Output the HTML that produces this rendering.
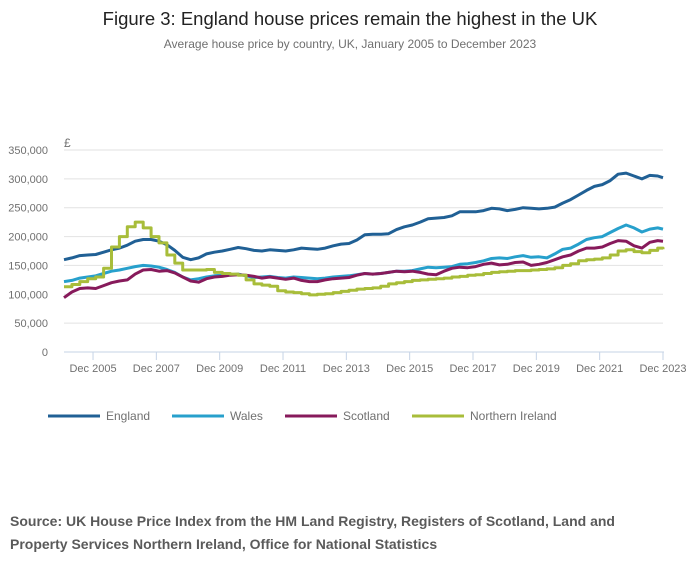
<!DOCTYPE html>
<html><head><meta charset="utf-8"><style>
body{margin:0;background:#fff;width:700px;height:574px;overflow:hidden;font-family:"Liberation Sans",sans-serif}
svg text{font-family:"Liberation Sans",sans-serif}
</style></head><body>
<svg id="c" width="700" height="574">
<text x="350" y="25" text-anchor="middle" font-size="18.5" fill="#222">Figure 3: England house prices remain the highest in the UK</text>
<text x="350" y="48" text-anchor="middle" font-size="12" fill="#707070">Average house price by country, UK, January 2005 to December 2023</text>
<text x="64" y="147" font-size="12" fill="#707070">£</text>
<g id="grid"></g><g id="series"></g><g id="legend"></g>
<text x="10" y="526" font-size="14" font-weight="bold" fill="#5a5a5a">Source: UK House Price Index from the HM Land Registry, Registers of Scotland, Land and</text>
<text x="10" y="549" font-size="14" font-weight="bold" fill="#5a5a5a">Property Services Northern Ireland, Office for National Statistics</text>
</svg>
<script>
const yTicks=[0,50000,100000,150000,200000,250000,300000,350000];
const xTickLabels=["Dec 2005","Dec 2007","Dec 2009","Dec 2011","Dec 2013","Dec 2015","Dec 2017","Dec 2019","Dec 2021","Dec 2023"];
const xTickMonths=[11,35,59,83,107,131,155,179,203,227];
const seriesNames=["England","Wales","Scotland","Northern Ireland"];
const england=[160,163,167,168,169,173,177,180,185,192,195,195,192,186,176,164,160,163,170,173,175,178,181,179,176,175,177,176,175,177,180,179,178,180,184,187,188,194,203,204,204,205,212,217,220,225,231,232,233,236,243,243,243,245,249,248,245,247,250,249,248,249,251,258,264,272,280,287,290,297,308,310,305,300,306,305,302];
const wales=[122,124,128,130,132,136,140,142,145,148,150,149,147,143,138,130,125,127,130,132,133,134,135,132,129,130,131,129,128,130,129,128,127,128,130,131,132,134,136,135,136,138,140,140,141,144,147,146,147,148,152,153,155,158,162,163,162,165,167,164,165,163,170,178,180,187,195,198,200,207,214,220,215,208,213,215,213];
const scotland=[94,104,110,111,110,115,120,123,125,135,142,143,140,141,137,130,123,121,127,130,131,133,134,133,131,128,130,128,126,128,124,122,122,125,127,128,129,133,136,135,136,138,140,139,140,138,135,134,140,145,147,146,148,152,154,151,152,155,156,150,152,155,160,165,168,175,180,180,182,188,193,192,184,180,190,193,192];
const nireland=[113,117,122,127,130,145,182,200,217,225,215,200,189,168,154,142,142,142,143,138,136,135,133,125,118,116,114,106,104,103,101,99,100,101,103,105,107,109,110,111,114,118,120,122,124,125,126,127,128,130,131,133,134,136,138,139,140,141,141,142,143,144,146,150,153,158,160,161,163,168,175,177,174,172,176,180,178];
const months=[];for(let i=0;i<76;i++)months.push(i*3);months.push(227);
const colors=["#206095","#27a0cc","#871a5b","#a8bd3a"];
const stepped=[false,false,false,true];
const X0=64,X1=663,Y0=352,Y1=150;
const xs=m=>X0+(X1-X0)*m/227;
const ys=v=>Y0-(Y0-Y1)*v/350000;
const NS="http://www.w3.org/2000/svg";
function mk(t,p,a){const e=document.createElementNS(NS,t);for(const k in a)e.setAttribute(k,a[k]);p.appendChild(e);return e;}
const grid=document.getElementById('grid');
yTicks.forEach(v=>{
 if(v>0){const l=mk('line',grid,{x1:X0,x2:X1,y1:ys(v),y2:ys(v),stroke:'#e2e2e2','stroke-width':1});
 
 }
 const t=mk('text',grid,{x:48,y:ys(v)+4,'text-anchor':'end','font-size':11,fill:'#707070'});t.textContent=v.toLocaleString('en-GB');
 
 
});
const ax=mk('line',grid,{x1:X0,x2:X1+1,y1:Y0,y2:Y0,stroke:'#c5d3e6','stroke-width':1});


xTickMonths.forEach((m,i)=>{
 const tk=mk('line',grid,{x1:xs(m),x2:xs(m),y1:Y0,y2:Y0+8,stroke:'#c5d3e6'});
 
 
 const t=mk('text',grid,{x:xs(m),y:372,'text-anchor':'middle','font-size':11,fill:'#707070'});t.textContent=xTickLabels[i];
 
 
});
const sg=document.getElementById('series');
[england,wales,scotland,nireland].forEach((d,si)=>{
 const arr=[];
 d.forEach((v,i)=>{
  const x=xs(months[i]),y=ys(v*1000);
  if(stepped[si]&&i>0){arr.push(x.toFixed(1)+','+ys(d[i-1]*1000).toFixed(1));}
  arr.push(x.toFixed(1)+','+y.toFixed(1));
 });
 const p=mk('polyline',sg,{points:arr.join(' '),fill:'none',stroke:colors[si],'stroke-width':3,'stroke-linejoin':'round'});
 
 
});
const lg=document.getElementById('legend');
const lx=[48,172,285,412];
seriesNames.forEach((n,i)=>{
 const l=mk('line',lg,{x1:lx[i],x2:lx[i]+52,y1:416,y2:416,stroke:colors[i],'stroke-width':3});
 
 
 const t=mk('text',lg,{x:lx[i]+58,y:420,'font-size':12,fill:'#707070'});t.textContent=n;
 
 
});
</script>
</body></html>
